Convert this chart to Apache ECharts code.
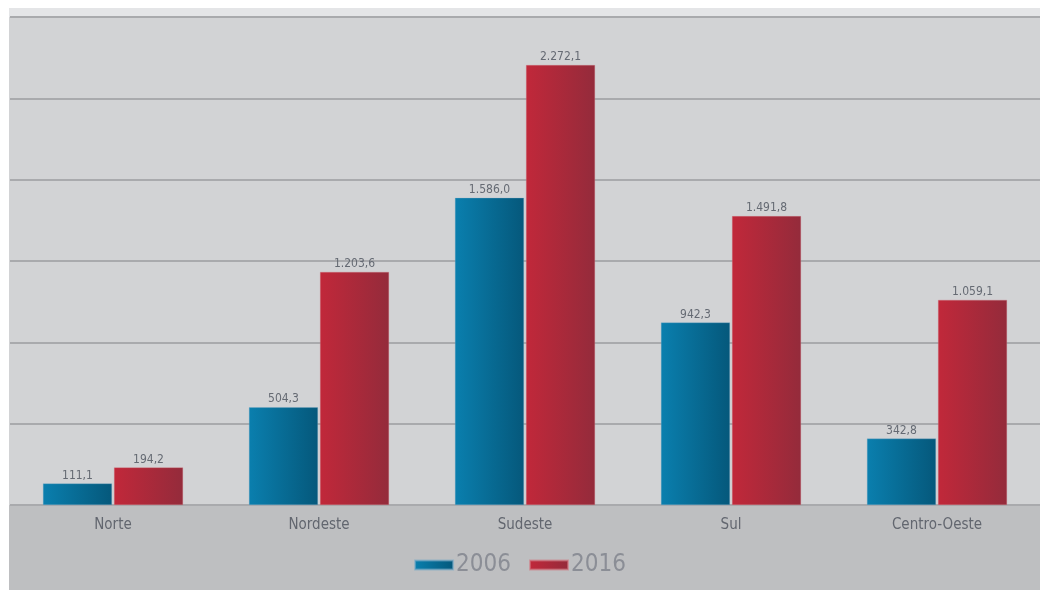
<!DOCTYPE html>
<html>
<head>
<meta charset="utf-8">
<script src="https://cdn.jsdelivr.net/npm/echarts@6/dist/echarts.min.js"></script>
<style>
  html, body { margin: 0; padding: 0; background: #ffffff; }
  #chart { width: 1040px; height: 590px; }
</style>
</head>
<body>
<div id="chart"></div>
<script>
// Regiões e valores por ano
const regioes = ['Norte', 'Nordeste', 'Sudeste', 'Sul', 'Centro-Oeste'];
const anos = ['2006', '2016'];
const valores2006 = [111.1, 504.3, 1586.0, 942.3, 342.8];
const valores2016 = [194.2, 1203.6, 2272.1, 1491.8, 1059.1];

const FONT = '"Liberation Sans Narrow", "DejaVu Sans Condensed", "Roboto Condensed", sans-serif';

function fmtBR(v) {
  const parts = v.toFixed(1).split('.');
  const inteiro = parts[0].replace(/\B(?=(\d{3})+(?!\d))/g, '.');
  return inteiro + ',' + parts[1];
}

function grad(c1, c2) {
  return new echarts.graphic.LinearGradient(0, 0, 1, 0, [
    { offset: 0, color: c1 },
    { offset: 1, color: c2 }
  ]);
}

const azul = grad('#0a7fae', '#05587b');
const vermelho = grad('#c1283a', '#942b3b');

const chart = echarts.init(document.getElementById('chart'), null, { renderer: 'canvas' });

const labelCfg = {
  show: true,
  position: 'top',
  distance: 2,
  color: '#656a73',
  fontFamily: FONT,
  fontSize: 12,
  formatter: p => fmtBR(p.value)
};

chart.setOption({
  animation: false,
  backgroundColor: '#ffffff',
  graphic: [
    { type: 'rect', z: -10, silent: true, shape: { x: 9, y: 8, width: 1031, height: 9 }, style: { fill: '#e4e5e7' } },
    { type: 'rect', z: -10, silent: true, shape: { x: 9, y: 17, width: 1031, height: 488 }, style: { fill: '#d2d3d5' } },
    { type: 'rect', z: -10, silent: true, shape: { x: 9, y: 505, width: 1031, height: 85 }, style: { fill: '#bebfc1' } }
  ],
  grid: { left: 10, right: 0, top: 17, bottom: 85, containLabel: false },
  legend: {
    bottom: 8,
    left: 'center',
    icon: 'rect',
    itemWidth: 38,
    itemHeight: 9,
    itemGap: 18,
    textStyle: { color: '#8b8e96', fontSize: 24, fontFamily: FONT, padding: [0, 0, 0, -2] },
    data: [
      { name: '2006', itemStyle: { color: azul } },
      { name: '2016', itemStyle: { color: vermelho } }
    ]
  },
  xAxis: {
    type: 'category',
    data: regioes,
    axisLine: { show: false },
    axisTick: { show: false },
    axisLabel: { color: '#62666f', fontSize: 15, fontFamily: FONT, margin: 13 }
  },
  yAxis: {
    type: 'value',
    min: 0,
    max: 2520,
    interval: 420,
    axisLabel: { show: false },
    axisLine: { show: false },
    axisTick: { show: false },
    splitLine: { show: true, lineStyle: { color: '#a9aaad', width: 2 } }
  },
  series: [
    {
      name: anos[0],
      type: 'bar',
      data: valores2006,
      barWidth: 69,
      barGap: '3%',
      itemStyle: { color: azul, borderColor: 'rgba(120,170,200,0.6)', borderWidth: 0.5 },
      label: labelCfg
    },
    {
      name: anos[1],
      type: 'bar',
      data: valores2016,
      barWidth: 69,
      itemStyle: { color: vermelho, borderColor: 'rgba(210,120,130,0.6)', borderWidth: 0.5 },
      label: labelCfg
    }
  ]
});
</script>
</body>
</html>
